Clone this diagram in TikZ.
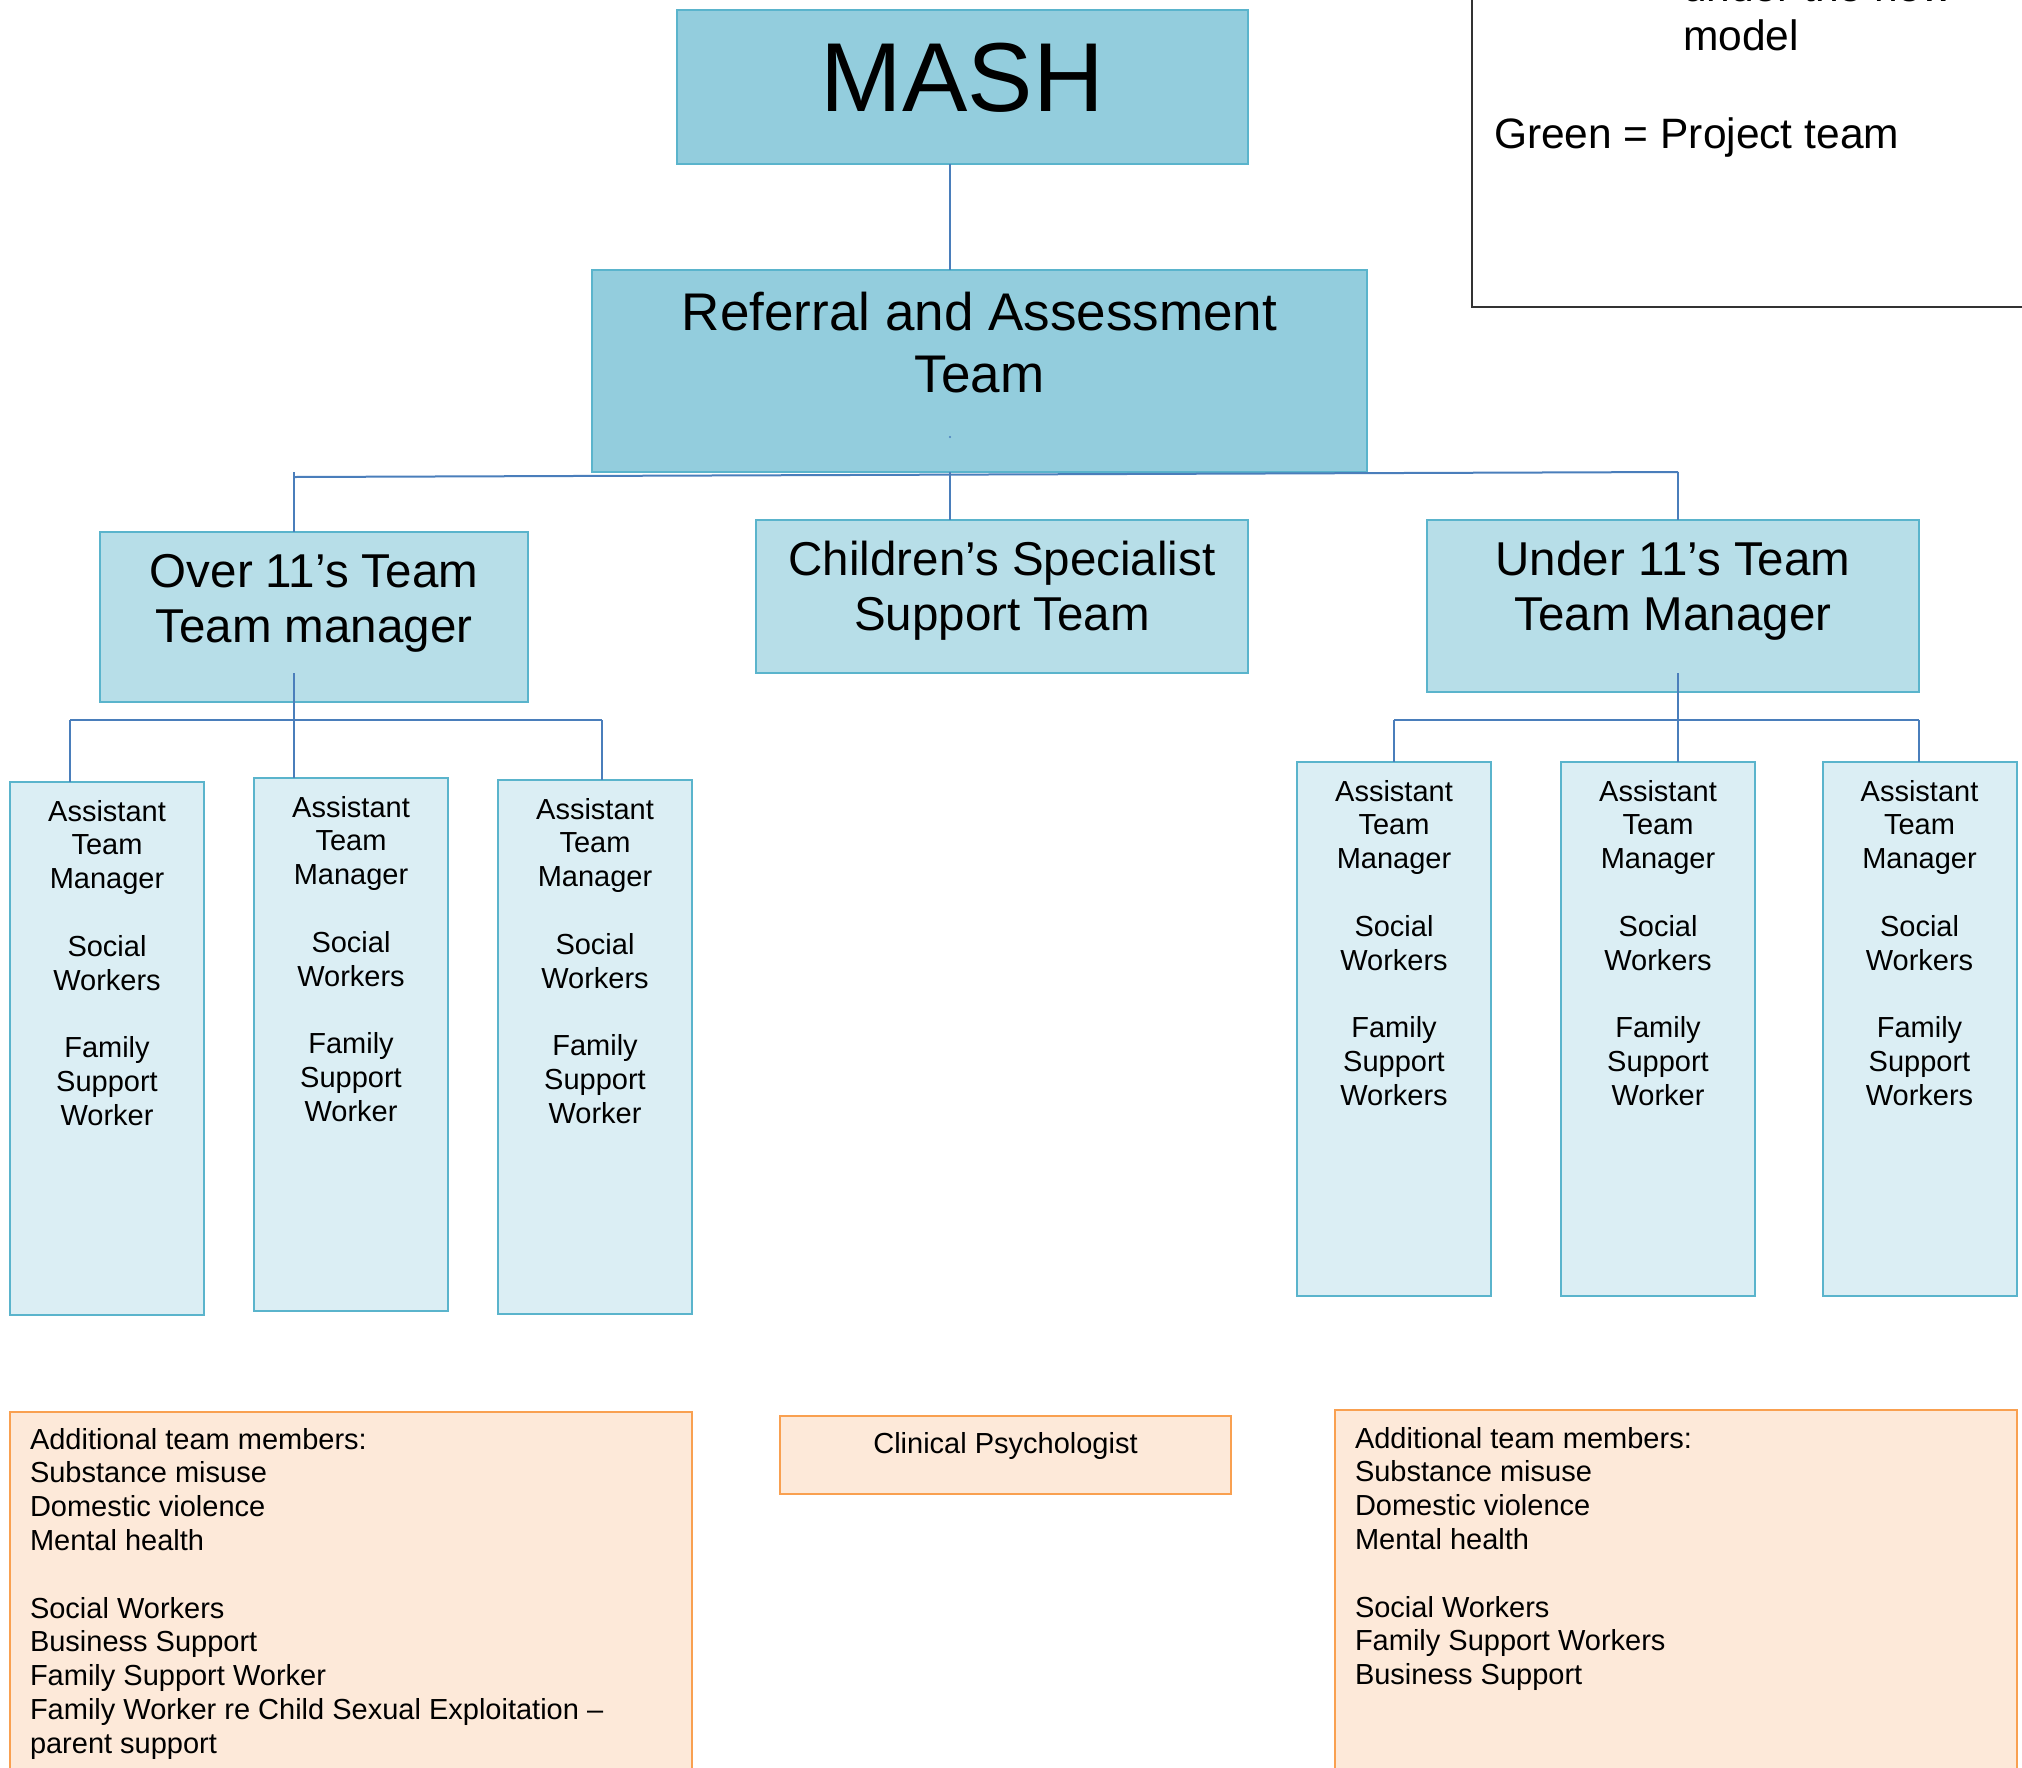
\documentclass[tikz,border=0pt]{standalone}
\usepackage{fontspec}
\setmainfont{Liberation Sans}
\newcommand{\mylines}[2]{\begin{tabular}[t]{@{}#1@{}}#2\end{tabular}}
\definecolor{fillA}{HTML}{93CDDD}
\definecolor{fillB}{HTML}{B7DEE8}
\definecolor{fillC}{HTML}{DBEEF4}
\definecolor{fillD}{HTML}{FDE9D9}
\definecolor{boxline}{HTML}{5AB4CC}
\definecolor{orangeline}{HTML}{F9A050}
\definecolor{linkblue}{HTML}{4A7EBB}
\begin{document}
\begin{tikzpicture}[x=0.5pt,y=-0.5pt,
  box/.style={rectangle, draw=boxline, line width=1pt, inner sep=0pt, outer sep=0pt},
  topbox/.style={box, fill=fillA},
  midbox/.style={box, fill=fillB},
  subbox/.style={box, fill=fillC, minimum width=97pt},
  notebox/.style={rectangle, draw=orangeline, fill=fillD, line width=1pt, inner sep=0pt, outer sep=0pt},
  link/.style={draw=linkblue, line width=1pt},
  txt/.style={anchor=base, inner sep=0pt, outer sep=0pt},
  small/.style={font=\fontsize{14.5}{16.9}\selectfont},
  mid/.style={font=\fontsize{23.75}{27.5}\selectfont}
]
\useasboundingbox (0,0) rectangle (2022,1767);

% legend box (partly outside the page)
\node[rectangle, draw=black!80, line width=0.8pt, fill=white, inner sep=0pt, outer sep=0pt,
      minimum width=294pt, minimum height=173.5pt] (legend) at (1766,133.5) {};
\node[txt, font=\fontsize{21.25}{24.5}\selectfont] (legA) at (1683,1) [anchor=base west] {under the new};
\node[txt, font=\fontsize{21.25}{24.5}\selectfont] (legB) at (1683,50) [anchor=base west] {model};
\node[txt, font=\fontsize{21.25}{24.5}\selectfont] (legC) at (1494,148) [anchor=base west] {Green = Project team};

% top boxes
\node[topbox, minimum width=285.5pt, minimum height=77pt] (mash) at (962.5,87) {};
\node[txt, font=\fontsize{49}{56}\selectfont] (mashT) at (962.5,111) {MASH};
\node[topbox, minimum width=387.5pt, minimum height=101pt] (ra) at (979.5,371) {};
\node[txt, font=\fontsize{26.5}{31}\selectfont] (raT) at (979.5,330) {\mylines{c}{Referral and Assessment\\Team}};
\fill[linkblue] (950,437) circle (1.2);

% second level
\node[midbox, minimum width=214pt, minimum height=85pt] (over) at (314,617) {};
\node[txt, mid] (overT) at (314,587) {\mylines{c}{Over 11’s Team\\Team manager}};
\node[midbox, minimum width=246pt, minimum height=76.5pt] (csst) at (1002,596.5) {};
\node[txt, mid] (csstT) at (1002,575) {\mylines{c}{Children’s Specialist\\Support Team}};
\node[midbox, minimum width=246pt, minimum height=86pt] (under) at (1673,606) {};
\node[txt, mid] (underT) at (1673,575) {\mylines{c}{Under 11’s Team\\Team Manager}};

% child boxes
\node[subbox, minimum height=266.5pt] (c1) at (107,1048.5) {};
\node[subbox, minimum height=266.5pt] (c2) at (351,1044.5) {};
\node[subbox, minimum height=267pt] (c3) at (595,1047) {};
\node[subbox, minimum height=267pt] (c4) at (1394,1029) {};
\node[subbox, minimum height=267pt] (c5) at (1658,1029) {};
\node[subbox, minimum height=267pt] (c6) at (1919.5,1029) {};
\node[txt, small] (c1T) at (107,821) {\mylines{c}{Assistant\\Team\\Manager\\ \\Social\\Workers\\ \\Family\\Support\\Worker}};
\node[txt, small] (c2T) at (351,817) {\mylines{c}{Assistant\\Team\\Manager\\ \\Social\\Workers\\ \\Family\\Support\\Worker}};
\node[txt, small] (c3T) at (595,819) {\mylines{c}{Assistant\\Team\\Manager\\ \\Social\\Workers\\ \\Family\\Support\\Worker}};
\node[txt, small] (c4T) at (1394,801) {\mylines{c}{Assistant\\Team\\Manager\\ \\Social\\Workers\\ \\Family\\Support\\Workers}};
\node[txt, small] (c5T) at (1658,801) {\mylines{c}{Assistant\\Team\\Manager\\ \\Social\\Workers\\ \\Family\\Support\\Worker}};
\node[txt, small] (c6T) at (1919.5,801) {\mylines{c}{Assistant\\Team\\Manager\\ \\Social\\Workers\\ \\Family\\Support\\Workers}};

% bottom boxes
\node[notebox, minimum width=341pt, minimum height=189pt] (bl) at (351,1601) {};
\node[txt, small, anchor=base west] (blT) at (30,1449) {\mylines{l}{Additional team members:\\Substance misuse\\Domestic violence\\Mental health\\ \\Social Workers\\Business Support\\Family Support Worker\\Family Worker re Child Sexual Exploitation –\\parent support}};
\node[notebox, minimum width=225.5pt, minimum height=39pt] (clin) at (1005.5,1455) {};
\node[txt, small] (clinT) at (1005.5,1453) {Clinical Psychologist};
\node[notebox, minimum width=341pt, minimum height=190pt] (br) at (1676,1600) {};
\node[txt, small, anchor=base west] (brT) at (1355,1448) {\mylines{l}{Additional team members:\\Substance misuse\\Domestic violence\\Mental health\\ \\Social Workers\\Family Support Workers\\Business Support}};

% connector coordinates
\coordinate (xm) at (950,0);
\coordinate (hL) at (294,477);
\coordinate (hR) at (1678,472);
\coordinate (tL) at (294,472);
\coordinate (oIn) at (294,673);
\coordinate (oL) at (70,720);
\coordinate (oR) at (602,720);
\coordinate (uIn) at (1678,673);
\coordinate (uL) at (1394,720);
\coordinate (uR) at (1919,720);

% connectors
\draw[link] (mash.south -| xm) -- (ra.north -| xm);
\draw[link] (hL) -- (hR);
\draw[link] (tL) -- (over.north -| tL);
\draw[link] (ra.south -| xm) -- (csst.north -| xm);
\draw[link] (hR) -- (under.north -| hR);
\draw[link] (oIn) -- (c2.north -| oIn);
\draw[link] (oL) -- (oR);
\draw[link] (oL) -- (c1.north -| oL);
\draw[link] (oR) -- (c3.north -| oR);
\draw[link] (uIn) -- (c5.north -| uIn);
\draw[link] (uL) -- (uR);
\draw[link] (uL) -- (c4.north -| uL);
\draw[link] (uR) -- (c6.north -| uR);
\end{tikzpicture}
\end{document}
